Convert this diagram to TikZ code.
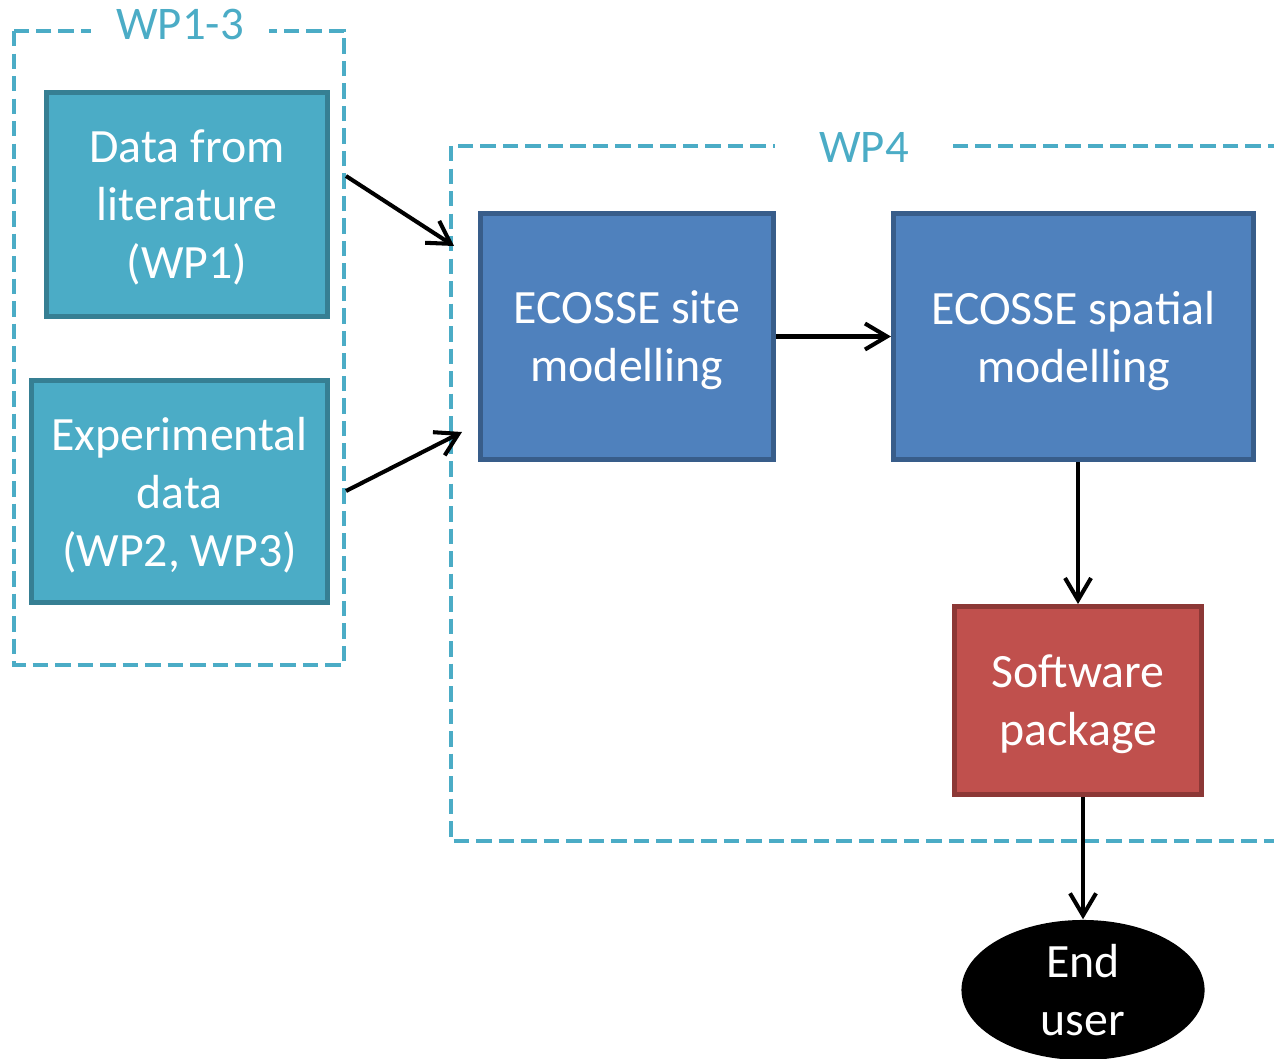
\documentclass[tikz,border=0pt]{standalone}
\usepackage{fontspec}
\setmainfont{Carlito}
\usetikzlibrary{arrows.meta,shapes.geometric}
\definecolor{wpteal}{HTML}{4BACC6}
\definecolor{tealline}{HTML}{367F93}
\definecolor{bluefill}{HTML}{4F81BD}
\definecolor{blueline}{HTML}{385D8A}
\definecolor{redfill}{HTML}{C0504D}
\definecolor{redline}{HTML}{8C3836}

\begin{document}
\begin{tikzpicture}[x=0.01cm,y=-0.01cm,
  txt/.style={font=\fontsize{13.6}{16.5}\selectfont},
  box/.style={txt,draw,line width=1.4pt,text=white,align=center,inner sep=0pt,text depth=0pt},
  tealbox/.style={box,fill=wpteal,draw=tealline},
  bluebox/.style={box,fill=bluefill,draw=blueline},
  redbox/.style={box,fill=redfill,draw=redline},
  wpframe/.style={draw=wpteal,line width=1.15pt,dash pattern=on 4.4pt off 2pt},
  wplabel/.style={font=\fontsize{13.3}{16}\selectfont,fill=white,text=wpteal,minimum width=1.78cm},
  flow/.style={-{Straight Barb[length=2.2mm,width=2.6mm]},line width=1.15pt}]
\useasboundingbox (0,0) rectangle (1274,1058);
\clip (0,0) rectangle (1274,1058);

% work package frames
\draw[wpframe] (14,31) rectangle (344,665);
\node[wplabel] (wpa) at (180,24) {WP1-3};
\draw[wpframe] (451,146) rectangle (1320,841);
\node[wplabel] (wpb) at (864,147) {WP4};

\node[tealbox,minimum width=2.81cm,minimum height=2.24cm] (lit) at (187,204.5) {Data from\\literature\\(WP1)};
\node[tealbox,minimum width=2.96cm,minimum height=2.22cm] (exp) at (179.5,491.5) {Experimental\\data\\(WP2, WP3)};
\node[bluebox,minimum width=2.93cm,minimum height=2.46cm] (site) at (627,336.5) {ECOSSE site\\modelling};
\node[bluebox,minimum width=3.60cm,minimum height=2.46cm] (spatial) at (1073.5,336.5) {ECOSSE spatial\\modelling};
\node[redbox,minimum width=2.47cm,minimum height=1.88cm] (soft) at (1078,700.5) {Software\\package};
\node[txt,ellipse,fill=black,text=white,align=center,inner sep=0pt,
  minimum width=2.43cm,minimum height=1.40cm] (user) at (1083,990) {End\\user};

\coordinate (litout) at (346,176);
\coordinate (expout) at (346,491);
\coordinate (wpin1) at (454,246);
\coordinate (wpin2) at (462,432);
\draw[flow] (litout) -- (wpin1);
\draw[flow] (expout) -- (wpin2);
\draw[flow] (site) -- (spatial);
\draw[flow] (soft.north |- spatial.south) -- (soft.north);
\draw[flow] (user.north |- soft.south) -- (user.north);
\end{tikzpicture}
\end{document}
